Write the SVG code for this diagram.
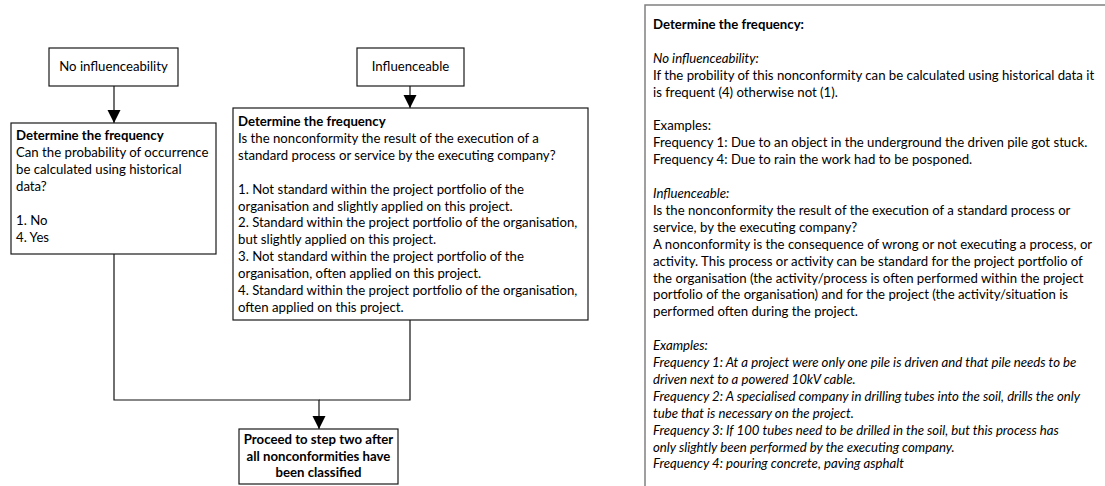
<svg xmlns="http://www.w3.org/2000/svg" width="1105" height="486" viewBox="0 0 1105 486">
  <style>
    text { font-family: Lato, "Liberation Sans", sans-serif; font-size: 13.2px; fill: #000; }
    .b { font-weight: bold; }
    .i { font-style: italic; }
    .mid { text-anchor: middle; }
    .box { fill: #fff; stroke: #1a1a1a; stroke-width: 1.2; }
    .panel { fill: #fff; stroke: #808080; stroke-width: 1.5; }
    .conn { fill: none; stroke: #111; stroke-width: 1.2; }
  </style>
  <defs>
    <marker id="arrow" markerUnits="userSpaceOnUse" markerWidth="13" markerHeight="16" refX="13" refY="6.5" orient="auto">
      <path d="M0,0 L13,6.5 L0,13 Z" fill="#000"/>
    </marker>
  </defs>

  <rect width="1105" height="486" fill="#fff"/>

  <!-- connectors -->
  <g id="connectors">
    <path class="conn" d="M114,86 V123" marker-end="url(#arrow)"/>
    <path class="conn" d="M410,86 V108" marker-end="url(#arrow)"/>
    <path class="conn" d="M410,320 V400 H319"/>
    <path class="conn" d="M114,254 V400 H319 V429" marker-end="url(#arrow)"/>
  </g>

  <!-- start: no influenceability -->
  <g id="start-none">
    <rect class="box" x="49" y="48" width="129" height="38"/>
    <text class="mid" x="113.5" y="71">No influenceability</text>
  </g>

  <!-- start: influenceable -->
  <g id="start-infl">
    <rect class="box" x="357" y="48" width="107" height="38"/>
    <text class="mid" x="410.5" y="71">Influenceable</text>
  </g>

  <!-- frequency question, no influenceability -->
  <g id="freq-none">
    <rect class="box" x="11" y="123" width="205" height="131"/>
    <text x="16" y="140" class="b">Determine the frequency</text>
    <text x="16" y="157">Can the probability of occurrence</text>
    <text x="16" y="174">be calculated using historical</text>
    <text x="16" y="191">data?</text>
    <text x="16" y="225">1. No</text>
    <text x="16" y="242">4. Yes</text>
  </g>

  <!-- frequency question, influenceable -->
  <g id="freq-infl">
    <rect class="box" x="233" y="108" width="355" height="212"/>
    <text x="238" y="126" class="b">Determine the frequency</text>
    <text x="238" y="142.9">Is the nonconformity the result of the execution of a</text>
    <text x="238" y="159.8">standard process or service by the executing company?</text>
    <text x="238" y="193.6">1. Not standard within the project portfolio of the</text>
    <text x="238" y="210.5">organisation and slightly applied on this project.</text>
    <text x="238" y="227.4">2. Standard within the project portfolio of the organisation,</text>
    <text x="238" y="244.3">but slightly applied on this project.</text>
    <text x="238" y="261.2">3. Not standard within the project portfolio of the</text>
    <text x="238" y="278.1">organisation, often applied on this project.</text>
    <text x="238" y="295">4. Standard within the project portfolio of the organisation,</text>
    <text x="238" y="311.9">often applied on this project.</text>
  </g>

  <!-- final step -->
  <g id="proceed">
    <rect class="box" x="239" y="429" width="159" height="55"/>
    <text class="b mid" x="318.5" y="444">Proceed to step two after</text>
    <text class="b mid" x="318.5" y="461">all nonconformities have</text>
    <text class="b mid" x="318.5" y="477">been classified</text>
  </g>

  <!-- explanation panel -->
  <g id="explanation">
    <rect class="panel" x="645" y="5" width="470" height="490"/>
    <text x="653" y="29" class="b">Determine the frequency:</text>
    <text x="653" y="62.8" class="i">No influenceability:</text>
    <text x="653" y="79.7">If the probility of this nonconformity can be calculated using historical data it</text>
    <text x="653" y="96.6">is frequent (4) otherwise not (1).</text>
    <text x="653" y="130.4">Examples:</text>
    <text x="653" y="147.3">Frequency 1: Due to an object in the underground the driven pile got stuck.</text>
    <text x="653" y="164.2">Frequency 4: Due to rain the work had to be posponed.</text>
    <text x="653" y="198" class="i">Influenceable:</text>
    <text x="653" y="214.9">Is the nonconformity the result of the execution of a standard process or</text>
    <text x="653" y="231.8">service, by the executing company?</text>
    <text x="653" y="248.7">A nonconformity is the consequence of wrong or not executing a process, or</text>
    <text x="653" y="265.6">activity. This process or activity can be standard for the project portfolio of</text>
    <text x="653" y="282.5">the organisation (the activity/process is often performed within the project</text>
    <text x="653" y="299.4">portfolio of the organisation) and for the project (the activity/situation is</text>
    <text x="653" y="316.3">performed often during the project.</text>
    <g class="i">
      <text x="653" y="350.1">Examples:</text>
      <text x="653" y="367">Frequency 1: At a project were only one pile is driven and that pile needs to be</text>
      <text x="653" y="383.9">driven next to a powered 10kV cable.</text>
      <text x="653" y="400.8">Frequency 2: A specialised company in drilling tubes into the soil, drills the only</text>
      <text x="653" y="417.7">tube that is necessary on the project.</text>
      <text x="653" y="434.6">Frequency 3: If 100 tubes need to be drilled in the soil, but this process has</text>
      <text x="653" y="451.5">only slightly been performed by the executing company.</text>
      <text x="653" y="468.4">Frequency 4: pouring concrete, paving asphalt</text>
    </g>
  </g>
</svg>
